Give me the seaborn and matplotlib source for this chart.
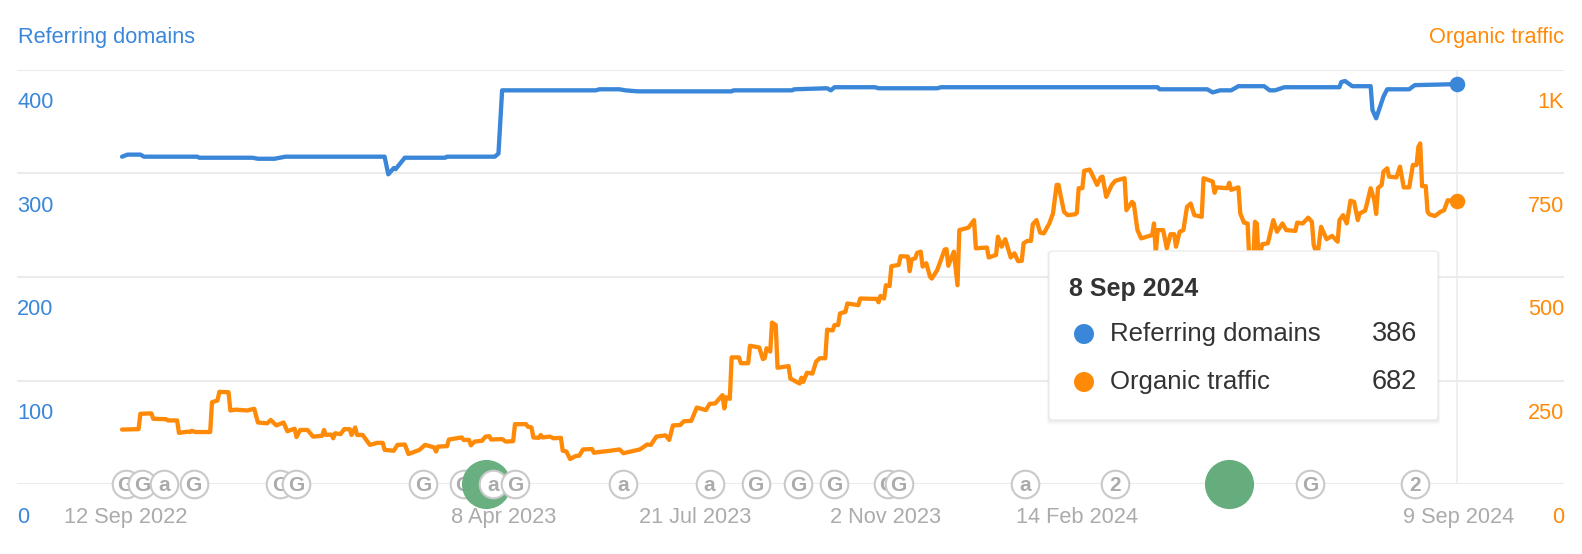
#!/usr/bin/python3

import matplotlib
matplotlib.use('Agg')
import matplotlib.pyplot as plt
from matplotlib.patches import FancyBboxPatch
from matplotlib.transforms import IdentityTransform
import pandas as pd
import seaborn as sns

START = pd.Timestamp('2022-09-12')

# days since START
domains_days = [0, 3, 10, 12, 41, 42, 71, 74, 83, 89, 143, 145, 148, 149, 154, 176, 177, 203, 205, 207,
                258, 260, 271, 274, 281, 332, 333, 365, 366, 384, 386, 388, 410, 412, 444, 446, 564, 565,
                591, 594, 598, 604, 608, 622, 625, 628, 633, 663, 664, 666, 670, 680, 681, 683, 687, 689,
                701, 704, 727]
domains_values = [316, 318, 318, 316, 316, 315, 315, 314, 314, 316, 316, 299, 305, 304, 315, 315, 316, 316, 319, 380,
                  380, 381, 381, 380, 379, 379, 380, 380, 381, 382, 380, 383, 383, 382, 382, 383, 383, 381,
                  381, 378, 380, 380, 384, 384, 380, 380, 383, 383, 388, 389, 384, 384, 361, 353, 374, 381,
                  381, 385, 386]

traffic_days = [0, 9, 10, 16, 17, 24, 25, 30, 31, 36, 37, 38, 40, 48, 49, 52, 53, 58, 59, 62, 68, 72, 74, 79, 81,
                84, 88, 90, 94, 95, 97, 101, 104, 109, 110, 111, 114, 115, 116, 119, 121, 124, 125, 127, 128,
                131, 135, 139, 142, 143, 148, 150, 154, 156, 162, 165, 170, 171, 172, 177, 178, 185, 186, 189,
                190, 192, 196, 198, 200, 201, 207, 209, 213, 214, 220, 221, 223, 224, 227, 228, 229, 233, 235,
                239, 240, 242, 244, 247, 249, 251, 256, 257, 260,
                266, 271, 273, 277, 282, 286, 288, 291, 296, 298, 300, 304, 306, 310, 313, 318, 320, 323, 327,
                328, 329, 331, 332, 336, 337, 341, 342, 347, 349, 350, 351, 353, 354, 356, 357, 363, 364, 369,
                370, 371, 373, 376, 378, 380, 383, 384, 387, 388, 390, 391, 394, 395, 401, 402, 411, 412, 413,
                415, 416, 418, 419, 423, 424, 428, 429, 430, 432, 433, 435, 436, 438, 440, 441, 444, 448, 449,
                450, 453, 455, 456, 461, 464, 465, 471, 472, 476, 477, 479, 481, 484, 486, 488, 490, 491, 493,
                495, 496, 498, 500, 502, 505,
                507, 509, 510, 513, 515, 519, 520, 521, 523, 524, 527, 531, 533, 534, 536, 539, 541, 546, 547,
                550, 551, 553, 555, 561, 562, 563, 564, 567, 569, 571, 573, 574, 576, 578, 580, 582, 584, 588,
                589, 594, 595, 596, 602, 603, 604, 608, 609, 611, 613, 614, 616, 617, 618, 619, 621, 624, 627,
                629, 632, 634, 639, 640, 643, 646, 648, 649, 651, 653, 656, 659, 662, 663, 665, 667, 669, 671,
                673, 674, 677, 678, 680, 682, 683, 684, 686, 687, 689, 690, 694, 696, 698, 701, 703, 705, 706,
                707, 708, 710, 711, 712, 715, 718, 720, 722, 727]
traffic_values = [132, 133, 170, 171, 158, 157, 154, 154, 124, 127, 126, 129, 126, 126, 198, 202, 223, 222, 178, 180,
                  178, 182, 149, 147, 155, 142, 149, 128, 134, 114, 131, 131, 115, 117, 131, 119, 120, 111, 123,
                  121, 133, 133, 119, 137, 119, 119, 95, 100, 100, 83, 81, 95, 96, 73, 83, 95, 89, 79, 91, 92,
                  108, 113, 107, 107, 94, 103, 105, 115, 116, 108, 109, 103, 104, 145, 145, 139, 137, 113, 112,
                  119, 113, 115, 111, 112, 81, 79, 61, 68, 69, 84, 85, 76, 78,
                  81, 84, 75, 79, 84, 96, 95, 115, 118, 107, 142, 143, 152, 153, 185, 179, 194, 195, 215, 183,
                  210, 206, 306, 306, 292, 292, 334, 330, 302, 304, 328, 320, 390, 384, 281, 285, 255, 243, 257,
                  247, 269, 267, 296, 304, 304, 373, 371, 384, 384, 412, 416, 436, 432, 448, 447, 439, 454, 448,
                  480, 478, 526, 529, 550, 549, 514, 542, 545, 558, 561, 525, 533, 501, 496, 517, 566, 567, 527,
                  561, 480, 613, 619, 637, 569, 571, 547, 553, 597, 573, 591, 547, 557, 538, 539, 581, 587, 587,
                  627, 637, 607, 605, 629,
                  653, 722, 722, 657, 649, 651, 655, 714, 714, 756, 759, 722, 740, 742, 693, 722, 732, 738, 661,
                  681, 677, 613, 593, 601, 629, 557, 613, 613, 569, 603, 603, 573, 609, 613, 669, 677, 649, 645,
                  738, 730, 703, 716, 714, 727, 710, 716, 653, 631, 629, 533, 533, 633, 629, 541, 579, 581, 637,
                  609, 629, 613, 611, 631, 629, 643, 633, 577, 549, 621, 591, 599, 585, 637, 649, 629, 684, 681,
                  637, 653, 660, 677, 714, 685, 652, 714, 722, 754, 762, 742, 740, 766, 716, 716, 770, 770, 814,
                  822, 719, 719, 657, 651, 647, 657, 661, 685, 682]

event_days = [2, 11, 23, 39, 86, 95, 164, 186, 202, 214, 273, 320, 345, 368, 388, 417, 423, 492, 541, 647, 704]
event_letters = ['G', 'G', 'a', 'G', 'G', 'G', 'G', 'G', 'a', 'G', 'a', 'a', 'G', 'G', 'G', 'G', 'G', 'a', '2', 'G', '2']
green_days = [198, 603]

date_ticks = ['2022-09-14', '2023-04-08', '2023-07-21', '2023-11-02', '2024-02-14', '2024-09-09']
date_labels = ['12 Sep 2022', '8 Apr 2023', '21 Jul 2023', '2 Nov 2023', '14 Feb 2024', '9 Sep 2024']
domain_ticks = [0, 100, 200, 300, 400]
traffic_ticks = [0, 250, 500, 750, 1000]
traffic_tick_labels = ['0', '250', '500', '750', '1K']

BLUE = '#3a87da'
ORANGE = '#ff8a08'
GREY = '#ababab'
GRID = '#ebebeb'
W, H = 1582, 554


def to_dates(days):
    return START + pd.to_timedelta(days, unit='D')


sns.set_theme(style='white')
plt.rcParams['font.family'] = ['Liberation Sans', 'DejaVu Sans']

fig = plt.figure(figsize=(W / 100, H / 100), dpi=100)
ax = fig.add_axes([17 / W, (H - 484.3) / H, (1564 - 17) / W, (484.3 - 69.6) / H])
ax2 = ax.twinx()

df_domains = pd.DataFrame({'date': to_dates(domains_days), 'value': domains_values})
df_traffic = pd.DataFrame({'date': to_dates(traffic_days), 'value': traffic_values})

# crosshair on the hovered day
ax.axvline(df_domains['date'].iloc[-1], color=GRID, linewidth=1.2, zorder=1)

sns.lineplot(data=df_domains, x='date', y='value', ax=ax, color=BLUE, linewidth=3.1, errorbar=None, zorder=3)
sns.lineplot(data=df_traffic, x='date', y='value', ax=ax2, color=ORANGE, linewidth=3.1, errorbar=None, zorder=3)
ax.scatter(df_domains['date'].iloc[-1:], df_domains['value'].iloc[-1:], s=125, color=BLUE, linewidth=0, zorder=4)
ax2.scatter(df_traffic['date'].iloc[-1:], df_traffic['value'].iloc[-1:], s=125, color=ORANGE, linewidth=0, zorder=4)

ax.set_xlim(START - pd.Timedelta(days=57.2), START + pd.Timedelta(days=727 + 58.3))
ax.set_ylim(0, 400)
ax2.set_ylim(0, 1000)

ax.set_yticks(domain_ticks)
ax.set_yticklabels([])
ax2.set_yticks(traffic_ticks)
ax2.set_yticklabels([])
ax.grid(axis='y', color=GRID, linewidth=1.5)
ax.grid(axis='x', visible=False)
ax.set_axisbelow(True)
ax.set_xlabel('')
ax.set_ylabel('')
ax2.set_xlabel('')
ax2.set_ylabel('')
for a in (ax, ax2):
    sns.despine(ax=a, left=True, right=True, top=True, bottom=True)
    a.tick_params(length=0)

ax.set_xticks(pd.to_datetime(date_ticks))
ax.set_xticklabels(date_labels, fontsize=15.7, color=GREY)
ax.tick_params(axis='x', pad=16)

# value labels sit below their grid lines
for v in domain_ticks:
    ax.annotate(str(v), xy=(0, v), xycoords=('axes fraction', 'data'), xytext=(0, -33), textcoords='offset pixels',
                color=BLUE, fontsize=15.7, ha='left', va='center')
for v, lab in zip(traffic_ticks, traffic_tick_labels):
    ax2.annotate(lab, xy=(1, v), xycoords=('axes fraction', 'data'), xytext=(0, -33), textcoords='offset pixels',
                 color=ORANGE, fontsize=15.7, ha='right', va='center')

fig.text(18 / W, 1 - 38 / H, 'Referring domains', color=BLUE, fontsize=15.7, va='center')
fig.text(1564 / W, 1 - 38 / H, 'Organic traffic', color=ORANGE, fontsize=15.7, va='center', ha='right')

# release markers along the baseline
for i, (d, letter) in enumerate(zip(event_days, event_letters)):
    when = to_dates([d])
    ax2.scatter(when, [0], s=395, facecolor='white', edgecolor='#c9c9c9', linewidth=1.5, clip_on=False, zorder=5 + i * 0.1)
    ax2.annotate(letter, xy=(when[0], 0), xytext=(0, -1), textcoords='offset pixels', ha='center', va='center',
                 fontsize=15, fontweight='bold', color=GREY, zorder=5 + i * 0.1 + 0.01, annotation_clip=False)
ax2.scatter(to_dates(green_days[:1]), [0], s=1250, color='#65ad7c', linewidth=0, alpha=0.97, clip_on=False, zorder=5.75)
ax2.scatter(to_dates(green_days[1:]), [0], s=1250, color='#65ad7c', linewidth=0, clip_on=False, zorder=8)

# tooltip, placed in pixels
tx0, tx1, ty0, ty1 = 1049, 1438, H - 420, H - 251
for off, alpha in [(5, 0.015), (4, 0.02), (3, 0.025), (2, 0.035), (1, 0.05)]:
    fig.add_artist(FancyBboxPatch((tx0 - off / 2, ty0 - off), tx1 - tx0 + off, ty1 - ty0 + off,
                                  boxstyle='round,pad=0,rounding_size=4', transform=IdentityTransform(),
                                  facecolor='#50505a', edgecolor='none', alpha=alpha, zorder=9))
fig.add_artist(FancyBboxPatch((tx0, ty0), tx1 - tx0, ty1 - ty0, boxstyle='round,pad=0,rounding_size=4',
                              transform=IdentityTransform(), facecolor='white', edgecolor='#ececec',
                              linewidth=1, zorder=10))
fig.text(1069 / W, 1 - 289 / H, '8 Sep 2024', color='#333333', fontsize=18, fontweight='bold', va='center', zorder=11)
for y, name, val, col in [(334, 'Referring domains', '386', BLUE), (382, 'Organic traffic', '682', ORANGE)]:
    fig.text(1110 / W, 1 - y / H, name, color='#333333', fontsize=18.5, va='center', zorder=11)
    fig.text(1417 / W, 1 - y / H, val, color='#333333', fontsize=19.5, va='center', ha='right', zorder=11)
    fig.add_artist(plt.Circle((1084, H - y), 10, transform=IdentityTransform(), facecolor=col, edgecolor='none', zorder=11))

fig.savefig('out.png', dpi=100)
plt.close(fig)
